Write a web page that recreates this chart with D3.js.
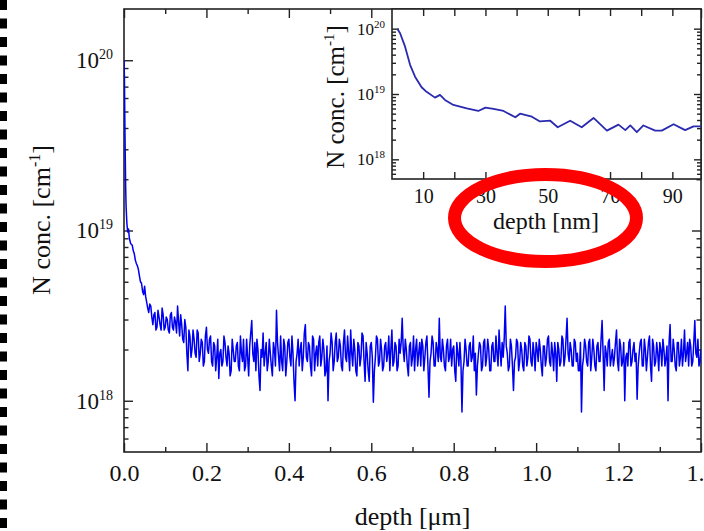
<!DOCTYPE html>
<html>
<head>
<meta charset="utf-8">
<script src="https://cdn.jsdelivr.net/npm/d3@7"></script>
<style>
	body { margin: 0; background: #fff; }
	svg text { font-family: "Liberation Serif", "Times New Roman", serif; fill: #111; }
</style>
</head>
<body>
<div id="chart-area"></div>
<script>
/*
	SIMS-like N profile, log scale, with zoomed inset of the first 100 nm
	conc values are in units of 1e18 cm^-1
*/

// steep surface part (depth in um)
var headDepth = [0, 0.001, 0.002, 0.003, 0.004, 0.005, 0.007, 0.009, 0.011, 0.013, 0.016];
var headConc = [100, 80, 45, 28, 18, 14, 11, 9.8, 10.2, 9.0, 8.4];

// rest of the profile, read every 0.005 um starting at 0.02 um
var tailStart = 0.02;
var tailStep = 0.005;
var tailConc = [
	8.2, 7.3, 6.4, 5.9, 5.0, 4.4, 4.7, 3.8, 3.3, 3.6,
	2.8, 3.3, 2.7, 3.1, 2.6, 3.2, 2.7, 3.0, 2.5, 3.3,
	2.6, 2.9, 3.6, 2.4, 2.8, 2.2, 2.7, 1.5, 2.4, 2.0,
	2.3, 1.8, 2.5, 1.9, 2.2, 1.7, 2.7, 1.9, 2.4, 1.6,
	2.1, 1.8, 1.35, 2.0, 1.7, 2.2, 1.6, 1.9, 1.5, 2.0,
	1.7, 2.2, 1.5, 1.9, 2.3, 1.6, 1.8, 2.1, 2.96, 1.7,
	1.5, 2.0, 1.15, 1.8, 1.6, 2.2, 1.7, 1.9, 1.4, 2.0,
	3.4, 1.8, 2.4, 1.5, 2.1, 1.7, 2.3, 1.6, 1.9, 1.0,
	1.9, 1.6, 2.2, 1.8, 2.8, 1.7, 2.1, 1.4, 2.3, 1.9,
	1.6, 2.4, 1.8, 2.0, 1.5, 1.0, 1.9, 2.2, 1.7, 2.5,
	1.8, 2.1, 1.5, 2.6, 1.7, 1.9, 2.6, 1.6, 2.0, 1.4,
	2.1, 1.8, 2.4, 1.3, 1.9, 1.3, 2.2, 0.98, 1.8, 2.3,
	1.7, 2.0, 1.6, 2.2, 1.9, 1.5, 2.6, 1.7, 2.1, 1.6,
	1.9, 3.05, 1.7, 2.0, 1.4, 2.2, 1.8, 1.5, 2.3, 1.9,
	1.6, 2.1, 1.8, 2.4, 1.05, 1.9, 2.2, 1.6, 2.0, 3.05,
	1.7, 2.0, 1.5, 2.3, 1.8, 1.6, 2.1, 1.3, 1.9, 2.2,
	0.86, 1.7, 2.0, 1.6, 2.2, 1.8, 1.5, 1.08, 1.9, 2.1,
	1.6, 2.3, 1.8, 2.0, 1.5, 2.2, 1.7, 1.9, 2.6, 1.6,
	1.8, 3.6, 1.9, 1.6, 2.1, 1.15, 1.8, 2.2, 1.7, 2.0,
	1.5, 2.1, 1.8, 2.3, 1.6, 1.9, 2.2, 1.7, 2.0, 1.4,
	2.1, 1.8, 2.4, 1.6, 1.9, 2.2, 1.3, 2.0, 1.7, 2.3,
	1.8, 3.05, 1.7, 2.0, 1.6, 2.2, 1.9, 1.5, 0.86, 1.8,
	2.1, 1.6, 2.3, 1.8, 2.0, 1.5, 2.2, 1.7, 2.96, 1.15,
	1.9, 2.2, 1.6, 2.0, 1.8, 2.6, 1.5, 2.1, 1.7, 1.0,
	1.9, 2.2, 1.6, 2.0, 1.7, 1.02, 1.9, 2.3, 1.6, 2.0,
	1.8, 2.4, 1.3, 2.1, 1.7, 1.9, 2.2, 1.6, 2.0, 1.8,
	1.0, 2.8, 1.7, 2.0, 1.5, 2.2, 1.8, 1.6, 2.6, 1.9,
	1.6, 2.1, 1.7, 2.96, 1.8, 1.6, 2.0
];
// readings half way between the ones above (0.0225, 0.0275, ...)
var tailConcMid = [
	7.6, 6.7, 6.2, 5.4, 4.9, 4.2, 4.1, 3.5, 3.7, 3.1,
	3.2, 2.6, 3.4, 2.8, 3.5, 2.6, 3.1, 2.6, 3.2, 2.7,
	3.1, 2.5, 2.9, 3.2, 2.3, 3.0, 1.9, 2.6, 1.8, 2.6,
	1.9, 2.6, 1.7, 2.3, 1.6, 2.4, 2.0, 2.3, 1.7, 2.2,
	1.5, 2.3, 1.9, 1.6, 2.4, 1.8, 2.1, 1.4, 2.3, 1.7,
	2.1, 1.6, 2.4, 1.7, 1.5, 2.3, 1.4, 2.5, 1.9, 2.2,
	2.3, 1.4, 2.0, 2.5, 1.9, 1.5, 2.3, 1.6, 2.2, 1.6,
	2.2, 1.5, 1.7, 2.3, 1.4, 2.2, 1.8, 2.4, 1.3, 1.7,
	2.3, 2.0, 1.5, 2.5, 1.8, 2.2, 1.6, 2.4, 1.5, 2.1,
	2.2, 1.6, 2.3, 1.4, 2.1, 1.7, 2.5, 1.5, 2.2, 1.7,
	2.3, 1.6, 2.2, 1.8, 2.4, 1.5, 1.9, 2.3, 1.5, 2.2,
	1.6, 2.5, 1.7, 2.2, 1.5, 2.1, 1.8, 1.5, 2.4, 1.6,
	2.3, 1.5, 2.1, 1.7, 2.4, 2.0, 1.6, 2.2, 1.5, 2.3,
	2.2, 2.0, 2.3, 1.6, 2.1, 1.6, 2.4, 2.0, 1.6, 2.2,
	2.3, 1.5, 2.2, 1.6, 1.7, 2.4, 1.6, 2.2, 1.7, 1.8,
	2.3, 1.6, 2.1, 1.7, 2.3, 2.0, 1.5, 2.2, 1.6, 1.7,
	1.5, 2.3, 1.6, 2.1, 1.7, 2.4, 1.9, 1.6, 2.2, 1.5,
	2.2, 1.6, 2.3, 1.5, 2.1, 1.7, 2.4, 1.6, 2.0, 2.2,
	2.3, 2.1, 1.5, 2.3, 1.6, 1.7, 2.3, 1.5, 2.2, 1.6,
	2.2, 1.6, 2.4, 1.7, 2.2, 1.5, 2.0, 2.3, 1.6, 2.1,
	1.6, 2.3, 1.7, 2.2, 1.5, 1.9, 2.2, 1.6, 2.4, 1.6,
	2.3, 1.9, 2.2, 1.6, 2.3, 1.7, 1.5, 2.2, 1.6, 2.3,
	1.7, 2.2, 1.5, 2.3, 1.6, 2.1, 1.7, 2.3, 1.9, 2.1,
	1.6, 2.3, 1.8, 1.6, 2.2, 1.7, 2.3, 1.6, 2.2, 1.8,
	1.6, 2.3, 1.7, 2.2, 1.9, 1.6, 2.2, 1.6, 2.3, 1.5,
	2.2, 1.6, 2.3, 1.6, 2.2, 1.5, 2.0, 2.3, 1.6, 2.1,
	2.2, 1.7, 2.3, 1.6, 2.2, 1.6, 2.3, 1.9, 1.7, 2.2,
	2.3, 1.6, 2.2, 1.9, 2.3, 1.7
];

// inset (depth in nm)
var insetDepth = [1.7, 2.6, 4.2, 5.8, 7.4, 9.5, 11.1, 13.8, 15.4, 17.0, 19.7, 24.0, 27.7, 30.0, 32.6, 35.8, 39.6, 41.1, 44.9, 47.5, 50.8, 53.2, 57.2, 60.9, 64.7, 69.0, 72.7, 74.9, 76.5, 78.6, 80.7, 84.5, 86.6, 90.4, 94.1, 96.8, 99.5];
var insetConc = [100, 85, 53, 28, 18.4, 12.7, 10.8, 8.8, 9.7, 8.1, 6.8, 6.0, 5.5, 6.2, 5.9, 5.5, 4.4, 5.0, 4.5, 3.8, 3.9, 3.1, 3.9, 3.1, 4.3, 2.75, 3.4, 2.8, 3.3, 2.6, 3.3, 2.75, 2.75, 3.45, 2.8, 3.2, 3.2];

// ticks
var xTicks = [0, 0.2, 0.4, 0.6, 0.8, 1.0, 1.2, 1.4];
var xMinor = [0.1, 0.3, 0.5, 0.7, 0.9, 1.1, 1.3];
var yMajor = [1e18, 1e19, 1e20];
var yMinor = [6e17, 7e17, 8e17, 9e17, 2e18, 3e18, 4e18, 5e18, 6e18, 7e18, 8e18, 9e18,
	2e19, 3e19, 4e19, 5e19, 6e19, 7e19, 8e19, 9e19];
var insetXTicks = [10, 30, 50, 70, 90];
var insetXMinor = [20, 40, 60, 80];

var width = 704, height = 531;

var mainData = [];
headDepth.forEach(function(d, i){ mainData.push({depth: d, conc: headConc[i] * 1e18}); });
tailConc.forEach(function(c, j){
	var d = tailStart + j * tailStep;
	mainData.push({depth: d, conc: c * 1e18});
	if (j < tailConcMid.length) mainData.push({depth: d + tailStep / 2, conc: tailConcMid[j] * 1e18});
});

var insetData = insetDepth.map(function(d, i){ return {depth: d, conc: insetConc[i] * 1e18}; });

var svg = d3.select("#chart-area").append("svg")
	.attr("width", width)
	.attr("height", height);

// dashed strip at the left edge
svg.append("line")
	.attr("x1", 3.5).attr("x2", 3.5)
	.attr("y1", 0).attr("y2", height)
	.attr("stroke", "#000")
	.attr("stroke-width", 7)
	.attr("stroke-dasharray", "10,8.5");

var mLeft = 124, mRight = 701, mTop = 9, mBottom = 452;

var x = d3.scaleLinear().domain([0, 1.4]).range([mLeft, mRight]);
var y = d3.scaleLog().domain([5e17, 2e20]).range([mBottom, mTop]);

function supLabels(sel, big, small, rise){
	sel.selectAll(".tick text").each(function(d){
		var t = d3.select(this);
		t.text("10").attr("font-size", big);
		t.append("tspan")
			.attr("dy", -rise)
			.attr("font-size", small)
			.text(Math.round(Math.log10(d)));
	});
}

function drawAxes(g, xs, ys, o){
	var l = xs.range()[0], r = xs.range()[1];
	var b = ys.range()[0], t = ys.range()[1];

	var gb = g.append("g").attr("transform", "translate(0," + b + ")")
		.call(d3.axisBottom(xs).tickValues(o.xMajor).tickSize(-o.xLen).tickPadding(o.xPad).tickFormat(o.xFmt));
	gb.selectAll("text").attr("font-size", o.xFont);
	g.append("g").attr("transform", "translate(0," + b + ")")
		.call(d3.axisBottom(xs).tickValues(o.xMinor).tickSize(-o.xMinLen).tickFormat(""));
	g.append("g").attr("transform", "translate(0," + t + ")")
		.call(d3.axisTop(xs).tickValues(o.xMajor).tickSize(-o.xLen).tickFormat(""));
	g.append("g").attr("transform", "translate(0," + t + ")")
		.call(d3.axisTop(xs).tickValues(o.xMinor).tickSize(-o.xMinLen).tickFormat(""));

	var gl = g.append("g").attr("transform", "translate(" + l + ",0)")
		.call(d3.axisLeft(ys).tickValues(yMajor).tickSize(-o.yLen).tickPadding(o.yPad));
	supLabels(gl, o.yFont, o.ySup, o.yRise);
	g.append("g").attr("transform", "translate(" + l + ",0)")
		.call(d3.axisLeft(ys).tickValues(yMinor).tickSize(-o.yMinLen).tickFormat(""));
	g.append("g").attr("transform", "translate(" + r + ",0)")
		.call(d3.axisRight(ys).tickValues(yMajor).tickSize(-o.yLen).tickFormat(""));
	g.append("g").attr("transform", "translate(" + r + ",0)")
		.call(d3.axisRight(ys).tickValues(yMinor).tickSize(-o.yMinLen).tickFormat(""));

	g.selectAll(".domain").remove();
	g.selectAll(".tick line").attr("stroke", "#222").attr("stroke-width", 1.4);

	g.append("rect")
		.attr("x", l).attr("y", t)
		.attr("width", r - l).attr("height", b - t)
		.attr("fill", "none")
		.attr("stroke", "#222")
		.attr("stroke-width", 1.6);
}

// main chart
var gMain = svg.append("g");
drawAxes(gMain, x, y, {
	xMajor: xTicks, xMinor: xMinor, xLen: 9, xMinLen: 5, xPad: 12, xFont: 24,
	xFmt: d3.format(".1f"),
	yLen: 9, yMinLen: 4.5, yPad: 11, yFont: 23, ySup: 14, yRise: 9
});

svg.append("clipPath").attr("id", "clip-main")
	.append("rect").attr("x", mLeft).attr("y", mTop).attr("width", mRight - mLeft).attr("height", mBottom - mTop);

var line = d3.line()
	.x(function(d){ return x(d.depth); })
	.y(function(d){ return y(d.conc); });

svg.append("path")
	.datum(mainData)
	.attr("clip-path", "url(#clip-main)")
	.attr("d", line)
	.attr("fill", "none")
	.attr("stroke", "#0000f0")
	.attr("stroke-width", 1.5)
	.attr("stroke-linejoin", "round");

svg.append("text")
	.attr("x", (mLeft + mRight) / 2)
	.attr("y", 525)
	.attr("text-anchor", "middle")
	.attr("font-size", 26)
	.text("depth [\u03bcm]");

var yt = svg.append("text")
	.attr("transform", "translate(50," + 220 + ") rotate(-90)")
	.attr("text-anchor", "middle")
	.attr("font-size", 26)
	.text("N conc. [cm");
yt.append("tspan").attr("dy", -10).attr("font-size", 16).text("-1");
yt.append("tspan").attr("dy", 10).text("]");

// inset
var iLeft = 392, iRight = 701, iTop = 9, iBottom = 179;
var ix = d3.scaleLinear().domain([0, 99.2]).range([iLeft, iRight]);
var iy = d3.scaleLog().domain([5e17, 2e20]).range([iBottom, iTop]);

svg.append("rect")
	.attr("x", iLeft).attr("y", iTop)
	.attr("width", iRight - iLeft).attr("height", iBottom - iTop)
	.attr("fill", "#fff");

var gInset = svg.append("g");
drawAxes(gInset, ix, iy, {
	xMajor: insetXTicks, xMinor: insetXMinor, xLen: 7, xMinLen: 7, xPad: 10, xFont: 20,
	xFmt: d3.format("d"),
	yLen: 7, yMinLen: 4, yPad: 7, yFont: 17, ySup: 11, yRise: 7
});

svg.append("clipPath").attr("id", "clip-inset")
	.append("rect").attr("x", iLeft).attr("y", iTop).attr("width", iRight - iLeft).attr("height", iBottom - iTop);

var iline = d3.line()
	.x(function(d){ return ix(d.depth); })
	.y(function(d){ return iy(d.conc); });

svg.append("path")
	.datum(insetData)
	.attr("clip-path", "url(#clip-inset)")
	.attr("d", iline)
	.attr("fill", "none")
	.attr("stroke", "#2a2ab0")
	.attr("stroke-width", 1.8)
	.attr("stroke-linejoin", "round");

svg.append("text")
	.attr("x", 546)
	.attr("y", 229)
	.attr("text-anchor", "middle")
	.attr("font-size", 24)
	.text("depth [nm]");

var iyt = svg.append("text")
	.attr("transform", "translate(344," + 97 + ") rotate(-90)")
	.attr("text-anchor", "middle")
	.attr("font-size", 25)
	.text("N conc. [cm");
iyt.append("tspan").attr("dy", -10).attr("font-size", 15).text("-1");
iyt.append("tspan").attr("dy", 10).text("]");

// red highlight ring
svg.append("ellipse")
	.attr("cx", 545.5).attr("cy", 218)
	.attr("rx", 91).attr("ry", 43.5)
	.attr("fill", "none")
	.attr("stroke", "#ff0000")
	.attr("stroke-width", 13);
</script>
</body>
</html>
